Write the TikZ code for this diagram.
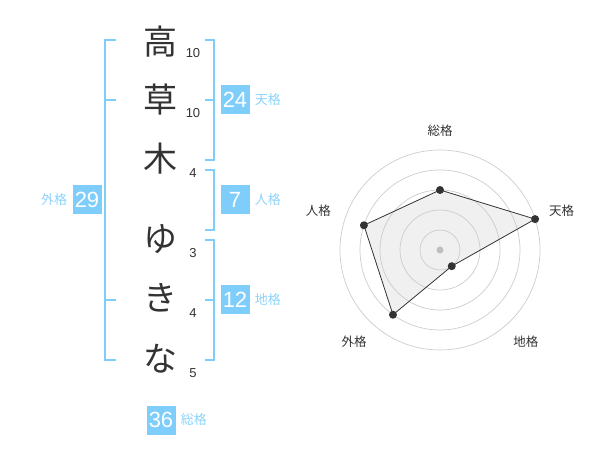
\documentclass[tikz,border=0pt]{standalone}
\usepackage{fontspec}
\setmainfont{Noto Sans CJK JP}
\newfontfamily\latin{Liberation Sans}
\usepackage{tikz}
\usetikzlibrary{positioning, calc}
\definecolor{skyblue}{HTML}{7ECDFB}
\definecolor{labelblue}{HTML}{8CD2FA}
\definecolor{inkgray}{HTML}{333333}
\tikzstyle{kanji} = [inner sep=0pt, font=\fontsize{34}{34}\selectfont, text=inkgray]
\tikzstyle{strokes} = [inner sep=0pt, font=\latin\fontsize{13}{13}\selectfont, text=inkgray]
\tikzstyle{score} = [rectangle, fill=skyblue, minimum width=29pt, minimum height=29pt, inner sep=0pt, text=white, font=\latin\fontsize{22}{22}\selectfont]
\tikzstyle{kaku} = [inner sep=0pt, text=labelblue, font=\fontsize{13}{13}\selectfont]
\tikzstyle{bracket} = [draw=skyblue, line width=2pt]
\tikzstyle{ring} = [draw=black!20, line width=0.7pt]
\tikzstyle{axis} = [inner sep=0pt, text=inkgray, font=\fontsize{12.5}{12.5}\selectfont]
\tikzstyle{dot} = [circle, fill=inkgray, inner sep=0pt, minimum size=8pt]

\begin{document}
\begin{tikzpicture}[x=1pt, y=-1pt]
    \useasboundingbox (0,0) rectangle (600,470);
    % name, one character per row
    \node[kanji] (c1) at (160,42) {高};
    \node[kanji] (c2) at (160,100) {草};
    \node[kanji] (c3) at (160,159) {木};
    \node[kanji] (c4) at (160,239) {ゆ};
    \node[kanji] (c5) at (160,298) {き};
    \node[kanji] (c6) at (160,359) {な};
    \node[strokes] (s1) at (193,53) {10};
    \node[strokes] (s2) at (193,113) {10};
    \node[strokes] (s3) at (193,173) {4};
    \node[strokes] (s4) at (193,253) {3};
    \node[strokes] (s5) at (193,313) {4};
    \node[strokes] (s6) at (193,373) {5};

    % brackets
    \draw[bracket] (116,40) -- (105,40) -- (105,360) -- (116,360);
    \draw[bracket] (105,100) -- (116,100);
    \draw[bracket] (105,300) -- (116,300);
    \draw[bracket] (205,40) -- (214,40) -- (214,160) -- (205,160);
    \draw[bracket] (205,100) -- (214,100);
    \draw[bracket] (205,170) -- (214,170) -- (214,230) -- (205,230);
    \draw[bracket] (205,240) -- (214,240) -- (214,360) -- (205,360);
    \draw[bracket] (205,300) -- (214,300);

    % scores
    \node[score] (ten) at (235,100) {24};
    \node[kaku, right=5pt of ten] (tenL) {天格};
    \node[score] (jin) at (235,200) {7};
    \node[kaku, right=5pt of jin] (jinL) {人格};
    \node[score] (chi) at (235,300) {12};
    \node[kaku, right=5pt of chi] (chiL) {地格};
    \node[score] (gai) at (87,200) {29};
    \node[kaku, left=5pt of gai] (gaiL) {外格};
    \node[score] (sou) at (161,420) {36};
    \node[kaku, right=5pt of sou] (souL) {総格};

    % radar chart
    \coordinate (ctr) at (440,250);
    \coordinate (pSou) at ($(ctr)+(90:60pt)$);
    \coordinate (pTen) at ($(ctr)+(18:100pt)$);
    \coordinate (pChi) at ($(ctr)+(-54:20pt)$);
    \coordinate (pGai) at ($(ctr)+(-126:80pt)$);
    \coordinate (pJin) at ($(ctr)+(162:80pt)$);
    \fill[black!6] (pSou) -- (pTen) -- (pChi) -- (pGai) -- (pJin) -- cycle;
    \foreach \r in {20,40,60,80,100}
        \draw[ring] (ctr) circle[radius=\r pt];
    \fill[black!25] (ctr) circle[radius=3.5pt];
    \node[axis] (aSou) at ($(ctr)+(90:119pt)$) {総格};
    \node[axis] (aTen) at ($(ctr)+(18:128pt)$) {天格};
    \node[axis] (aChi) at ($(ctr)+(-47:126pt)$) {地格};
    \node[axis] (aGai) at ($(ctr)+(-133:126pt)$) {外格};
    \node[axis] (aJin) at ($(ctr)+(162:128pt)$) {人格};
    \draw[inkgray, line width=0.8pt]
        (pSou) -- (pTen) -- (pChi) -- (pGai) -- (pJin) -- cycle;
    \foreach \p in {pSou, pTen, pChi, pGai, pJin}
        \node[dot] at (\p) {};
\end{tikzpicture}
\end{document}
